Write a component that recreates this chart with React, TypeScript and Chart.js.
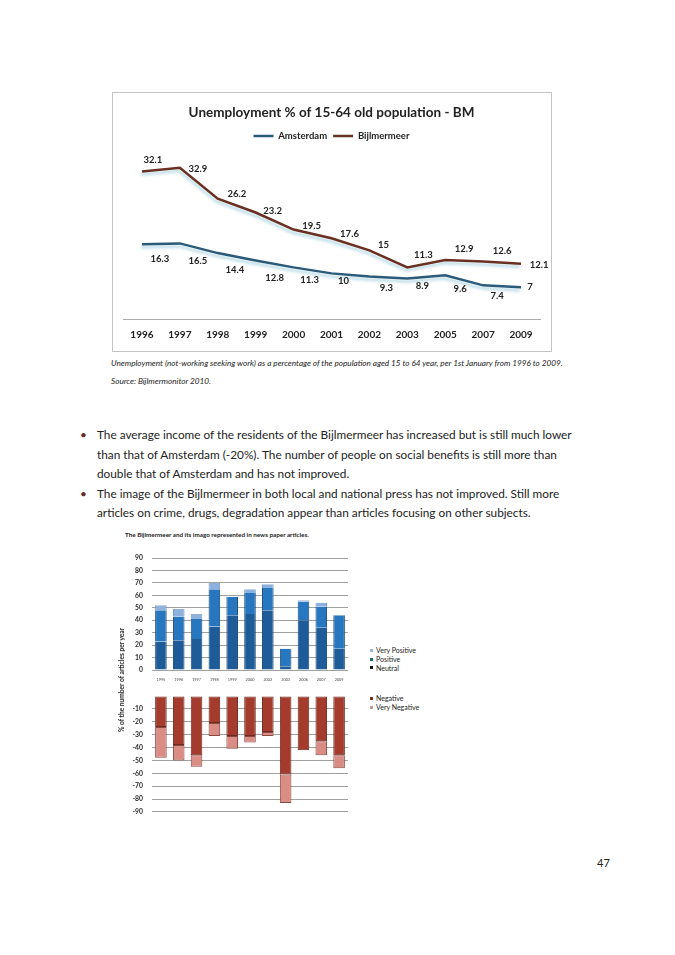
import React, { useEffect, useRef } from "react";
import { Chart, registerables } from "chart.js";

Chart.register(...registerables);

// ---------- Line chart data ----------
const years = ["1996", "1997", "1998", "1999", "2000", "2001", "2002", "2003", "2005", "2007", "2009"];
const amsterdam = [16.3, 16.5, 14.4, 12.8, 11.3, 10, 9.3, 8.9, 9.6, 7.4, 7];
const bijlmermeer = [32.1, 32.9, 26.2, 23.2, 19.5, 17.6, 15, 11.3, 12.9, 12.6, 12.1];

// ---------- Bar chart data ----------
const articleYears = ["1995", "1996", "1997", "1998", "1999", "2000", "2002", "2003", "2006", "2007", "2009"];
const neutral = [23, 24, 25, 35, 44, 45, 48, 3, 40, 34, 17];
const positive = [25, 19, 16, 30, 15, 17, 18, 14, 15, 17, 27];
const veryPositive = [4, 6, 4, 5, 0, 3, 3, 0, 1, 3, 0];
const negative = [-24, -38, -46, -21, -31, -31, -28, -61, -42, -35, -46];
const veryNegative = [-24, -12, -9, -10, -10, -5, -3, -22, 0, -11, -10];

// label placement (layout only)
const amsLabelOffsets = [[18, 15], [18, 18], [17, 17], [19, 17], [16, 13], [12, 8], [17, 11], [15, 7], [15, 14], [14, 11], [9, 0]];
const bijLabelOffsets = [[11, -12], [18, 1], [19, -5], [17, -2], [18, -4], [18, -4], [14, -5], [16, -12], [19, -11], [19, -10], [18, 1]];

const FONT = "Lato, 'Open Sans', sans-serif";

const lineLabels = {
  id: "lineLabels",
  afterDatasetsDraw(chart: any) {
    const ctx = chart.ctx;
    ctx.save();
    ctx.font = `bold 9.5px ${FONT}`;
    ctx.fillStyle = "#222";
    ctx.textAlign = "center";
    ctx.textBaseline = "middle";
    chart.data.datasets.forEach((ds: any, di: number) => {
      const meta = chart.getDatasetMeta(di);
      const offs = di === 0 ? amsLabelOffsets : bijLabelOffsets;
      meta.data.forEach((pt: any, i: number) => {
        ctx.fillText(String(ds.data[i]), pt.x + offs[i][0], pt.y + offs[i][1]);
      });
    });
    ctx.restore();
  },
};

const glow = {
  id: "glow",
  beforeDatasetDraw(chart: any) {
    const ctx = chart.ctx;
    ctx.save();
    ctx.shadowColor = "rgba(120,185,205,0.55)";
    ctx.shadowBlur = 3;
    ctx.shadowOffsetX = -1;
    ctx.shadowOffsetY = 3;
  },
  afterDatasetDraw(chart: any) {
    chart.ctx.restore();
  },
};

export default function App() {
  const lineRef = useRef<HTMLCanvasElement>(null);
  const posRef = useRef<HTMLCanvasElement>(null);
  const negRef = useRef<HTMLCanvasElement>(null);

  useEffect(() => {
    const charts: Chart[] = [];

    charts.push(
      new Chart(lineRef.current as HTMLCanvasElement, {
        type: "line",
        data: {
          labels: years,
          datasets: [
            { label: "Amsterdam", data: amsterdam, borderColor: "#2c5b7a", backgroundColor: "#2c5b7a", borderWidth: 2.5, pointRadius: 0, tension: 0 },
            { label: "Bijlmermeer", data: bijlmermeer, borderColor: "#6a3022", backgroundColor: "#6a3022", borderWidth: 2.5, pointRadius: 0, tension: 0 },
          ],
        },
        options: {
          responsive: false,
          animation: false,
          layout: { padding: { left: 10, right: 11, top: 0, bottom: 1.5 } },
          plugins: {
            title: {
              display: true,
              text: "Unemployment % of 15-64 old population - BM",
              font: { family: FONT, size: 13.5, weight: "bold" },
              color: "#222",
              padding: { top: 12, bottom: 4 },
            },
            legend: {
              display: true,
              labels: {
                usePointStyle: true,
                pointStyle: "line",
                pointStyleWidth: 20,
                boxHeight: 8,
                font: { family: FONT, size: 9.5, weight: "bold" },
                color: "#222",
                padding: 6,
              },
            },
            tooltip: { enabled: false },
          },
          scales: {
            x: {
              offset: true,
              grid: { display: false, drawTicks: false },
              border: { display: true, color: "#aaa", width: 1 },
              ticks: { font: { family: FONT, size: 10, weight: "bold" }, color: "#222", padding: 9, autoSkip: false, maxRotation: 0 },
            },
            y: { display: false, min: 0, max: 36.6 },
          },
        } as any,
        plugins: [glow, lineLabels],
      })
    );

    charts.push(
      new Chart(posRef.current as HTMLCanvasElement, {
        type: "bar",
        data: {
          labels: articleYears,
          datasets: [
            { label: "Neutral", data: neutral, backgroundColor: "#1d5c99", borderColor: "#194a7a", borderWidth: { left: 1, right: 1, top: 0, bottom: 0 } },
            { label: "Positive", data: positive, backgroundColor: "#2777c0", borderColor: "#194a7a", borderWidth: { left: 1, right: 1, top: 0, bottom: 0 } },
            { label: "Very Positive", data: veryPositive, backgroundColor: "#8cb2dd", borderColor: "#6f93bd", borderWidth: { left: 1, right: 1, top: 0, bottom: 0 } },
          ],
        },
        options: {
          responsive: false,
          animation: false,
          layout: { padding: { left: 0, right: 12, top: 8, bottom: 0 } },
          datasets: { bar: { barPercentage: 0.65, categoryPercentage: 1 } },
          plugins: { legend: { display: false }, tooltip: { enabled: false } },
          scales: {
            x: {
              stacked: true,
              grid: { display: false, drawTicks: false },
              border: { display: false },
              ticks: { font: { family: FONT, size: 3.8 }, color: "#444", padding: 7, autoSkip: false, maxRotation: 0 },
              afterFit: (s: any) => { s.height = 15; },
            },
            y: {
              stacked: true,
              min: 0,
              max: 90,
              ticks: { stepSize: 10, font: { family: FONT, size: 6.8, weight: "bold" }, color: "#2a2a2a", padding: 9 },
              grid: { color: "#a0a0a0", lineWidth: 1, drawTicks: false },
              border: { display: false },
              afterFit: (s: any) => { s.width = 52; },
            },
          },
        } as any,
      })
    );

    charts.push(
      new Chart(negRef.current as HTMLCanvasElement, {
        type: "bar",
        data: {
          labels: articleYears,
          datasets: [
            { label: "Negative", data: negative, backgroundColor: "#a43b2c", borderColor: "#6e2a20", borderWidth: 1, borderSkipped: false },
            { label: "Very Negative", data: veryNegative, backgroundColor: "#d98d84", borderColor: "#8a4a42", borderWidth: 1, borderSkipped: false },
          ],
        },
        options: {
          responsive: false,
          animation: false,
          layout: { padding: { left: 0, right: 12, top: 4.6, bottom: 7.6 } },
          datasets: { bar: { barPercentage: 0.65, categoryPercentage: 1 } },
          plugins: { legend: { display: false }, tooltip: { enabled: false } },
          scales: {
            x: { stacked: true, display: false },
            y: {
              stacked: true,
              min: -90,
              max: 0,
              ticks: {
                stepSize: 10,
                font: { family: FONT, size: 6.8, weight: "bold" },
                color: "#2a2a2a",
                padding: 9,
                callback: (v: any) => (v === 0 ? "" : v),
              },
              grid: {
                color: (c: any) => (c.tick && c.tick.value === 0 ? "rgba(0,0,0,0)" : "#a0a0a0"),
                lineWidth: 1,
                drawTicks: false,
              },
              border: { display: false },
              afterFit: (s: any) => { s.width = 52; },
            },
          },
        } as any,
      })
    );

    return () => charts.forEach((c) => c.destroy());
  }, []);

  const abs = (left: number, top: number, extra: React.CSSProperties = {}): React.CSSProperties => ({
    position: "absolute",
    left,
    top,
    ...extra,
  });

  const bulletLines = [
    { bullet: true, text: "The average income of the residents of the Bijlmermeer has increased but is still much lower" },
    { bullet: false, text: "than that of Amsterdam (-20%). The number of people on social benefits is still more than" },
    { bullet: false, text: "double that of Amsterdam and has not improved." },
    { bullet: true, text: "The image of the Bijlmermeer in both local and national press has not improved. Still more" },
    { bullet: false, text: "articles on crime, drugs, degradation appear than articles focusing on other subjects." },
  ];

  const legendItems = [
    { label: "Very Positive", color: "#9bb7d6", top: 646 },
    { label: "Positive", color: "#1f6a6e", top: 655 },
    { label: "Neutral", color: "#111", top: 663.5 },
    { label: "Negative", color: "#8b2a20", top: 694 },
    { label: "Very Negative", color: "#d4958e", top: 703 },
  ];

  return (
    <div style={{ position: "absolute", left: 0, top: 0, width: 675, height: 955, background: "#fff", overflow: "hidden", fontFamily: FONT, color: "#222" }}>
      {/* line chart */}
      <div style={abs(112, 92, { width: 440, height: 260, border: "1px solid #c4c4c4", boxSizing: "border-box" })}>
        <canvas ref={lineRef} width={438} height={258} style={{ display: "block", width: 438, height: 258 }} />
      </div>
      <div style={abs(111, 357, { fontSize: 8.2, fontStyle: "italic", whiteSpace: "nowrap", lineHeight: "12px" })}>
        Unemployment (not-working seeking work) as a percentage of the population aged 15 to 64 year, per 1st January from 1996 to 2009.
      </div>
      <div style={abs(111, 375, { fontSize: 8.2, fontStyle: "italic", whiteSpace: "nowrap", lineHeight: "12px" })}>
        Source: Bijlmermonitor 2010.
      </div>

      {/* bullets */}
      {bulletLines.map((l, i) => (
        <React.Fragment key={i}>
          {l.bullet && (
            <div style={abs(80, 425 + i * 19.5, { fontSize: 11.8, lineHeight: "20px", color: "#6b2a2a" })}>•</div>
          )}
          <div style={abs(97, 425 + i * 19.5, { fontSize: 11.8, lineHeight: "20px", whiteSpace: "nowrap" })}>{l.text}</div>
        </React.Fragment>
      ))}

      {/* bar chart */}
      <div style={abs(125, 531, { fontSize: 6.3, fontWeight: "bold", whiteSpace: "nowrap", lineHeight: "8px" })}>
        The Bijlmermeer and its imago represented in news paper articles.
      </div>
      <canvas ref={posRef} width={260} height={140} style={abs(100, 545, { width: 260, height: 140 })} />
      <canvas ref={negRef} width={260} height={142} style={abs(100, 683, { width: 260, height: 142 })} />
      <div
        style={abs(121, 680, {
          fontSize: 6.6,
          fontWeight: "bold",
          whiteSpace: "nowrap",
          transform: "translate(-50%, -50%) rotate(-90deg)",
          lineHeight: "8px",
        })}
      >
        % of the number of articles per year
      </div>
      {legendItems.map((it) => (
        <div key={it.label} style={abs(370, it.top, { display: "flex", alignItems: "center", fontSize: 7, lineHeight: "8px", whiteSpace: "nowrap" })}>
          <span style={{ display: "inline-block", width: 3, height: 3, background: it.color, marginRight: 3 }} />
          {it.label}
        </div>
      ))}

      {/* page number */}
      <div style={abs(597, 856, { fontSize: 11, lineHeight: "14px" })}>47</div>
    </div>
  );
}
